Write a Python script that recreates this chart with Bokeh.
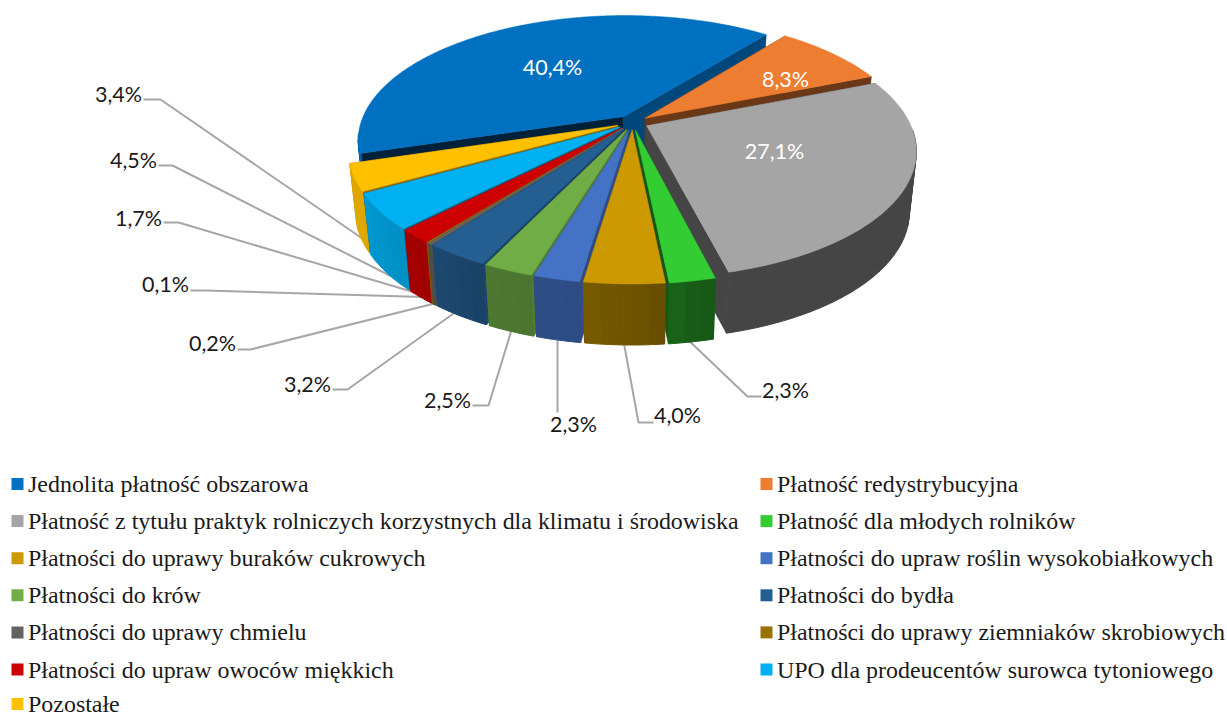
import numpy as np
from bokeh.plotting import figure
from bokeh.models import Range1d
from bokeh.core.properties import value
from bokeh.embed import file_html
from bokeh.resources import INLINE

# ---- data ----
categories = ["Jednolita płatność obszarowa", "Płatność redystrybucyjna",
    "Płatność z tytułu praktyk rolniczych korzystnych dla klimatu i środowiska",
    "Płatność dla młodych rolników", "Płatności do uprawy buraków cukrowych",
    "Płatności do upraw roślin wysokobiałkowych", "Płatności do krów", "Płatności do bydła",
    "Płatności do uprawy chmielu", "Płatności do uprawy ziemniaków skrobiowych",
    "Płatności do upraw owoców miękkich", "UPO dla prodeucentów surowca tytoniowego", "Pozostałe"]
shares = [40.4, 8.3, 27.1, 2.3, 4.0, 2.3, 2.5, 3.2, 0.2, 0.1, 1.7, 4.5, 3.4]
labels = ["40,4%", "8,3%", "27,1%", "2,3%", "4,0%", "2,3%", "2,5%", "3,2%", "0,2%", "0,1%", "1,7%", "4,5%", "3,4%"]
colors = ["#0070C0", "#ED7D31", "#A5A5A5", "#33CC33", "#CC9900", "#4472C4", "#70AD47",
          "#255E91", "#636363", "#997300", "#CC0000", "#00B0F0", "#FFC000"]

# ---- layout (picture pixels) ----
CX, CY, R, RY, P, EXPL, THICK, K = 632, 122, 263, 122, 0.188, 0.06, 61, 0.975
START = -107
LABEL_POS = [(552, 66), (785, 78), (774, 150), (785, 389), (677, 414), (573, 423), (447, 399),
             (307, 383), (212, 342), (165, 283), (138, 217), (133, 159), (118, 93)]
ELBOWS = [None, None, None, [(761, 396), (747, 396)], [(653, 422), (638, 422)], [(557, 412), (557, 412)],
          [(472, 405), (488, 405)], [(332, 389), (347, 389)], [(237, 349), (250, 349)],
          [(190, 290), (205, 290)], [(163, 222), (178, 222)], [(158, 165), (172, 165)], [(143, 99), (160, 99)]]
LEADER_END = [None, None, None, (684, 336), (622, 335), (557, 332), (513, 323), (460, 308), (446, 300),
              (440, 297), (428, 296), (405, 283), (372, 245)]
RADIAL_SHADE = [(0.30, 0.65), (0.45, 0.45), (0.42, 0.42), (0.45, 0.42), (0.55, 0.55), (0.68, 0.68),
                (0.72, 0.72), (0.75, 0.72), (0.8, 0.8), (0.8, 0.8), (0.82, 0.82), (0.6, 0.6), (0.55, 0.55)]
SHADE_T = [120, 166, 174, 189, 190, 197, 206, 211, 221, 233, 247]
SHADE_V = [0.42, 0.42, 0.50, 0.60, 0.68, 0.68, 0.70, 0.74, 0.80, 0.85, 0.88]
WALL_FROM, WALL_TO = 92, 262   # part of the rim that faces the viewer, degrees clockwise from the back

def shade(c, f):
    r, g, b = int(c[1:3], 16), int(c[3:5], 16), int(c[5:7], 16)
    return "#%02x%02x%02x" % (int(r * f), int(g * f), int(b * f))

def project(r, t, m):
    t, m = np.radians(t), np.radians(m)
    X = r * np.sin(t) + EXPL * np.sin(m)
    Y = r * np.cos(t) + EXPL * np.cos(m)
    s = 1 / (1 + P * Y)
    return CX + R * X * s, CY - RY * Y * s

def lower(x, y):
    return CX + (np.asarray(x) - CX) * K, np.asarray(y) + THICK

p = figure(width=1227, height=717, output_backend="svg", toolbar_location=None,
           x_range=Range1d(0, 1227), y_range=Range1d(717, 0), min_border=0, outline_line_color=None)
p.xaxis.visible = False
p.yaxis.visible = False
p.grid.visible = False

# leaders, beneath the pie
for el, end in zip(ELBOWS, LEADER_END):
    if el:
        xs = [el[0][0], el[1][0], end[0]]
        ys = [el[0][1], el[1][1], end[1]]
        p.line(xs, ys, line_color="#A6A6A6", line_width=2)

edges = START + np.cumsum([0] + shares) * 3.6
mids = (edges[:-1] + edges[1:]) / 2
order = np.argsort(-np.cos(np.radians(mids)))

for i in order:
    a, b, m, col = edges[i], edges[i + 1], mids[i], colors[i]
    ts = np.linspace(a, b, max(int((b - a) * 2), 6))
    ax, ay = project(0, 0, m)
    for t_edge, f in zip((a, b), RADIAL_SHADE[i]):
        ex, ey = project(1, t_edge, m)
        bx, by = lower([ax, ex], [ay, ey])
        c = shade(col, f)
        p.patch([ax, ex, bx[1], bx[0]], [ay, ey, by[1], by[0]], fill_color=c, line_color=c, line_width=0.5)
    # outer wall, in bands, only where the rim faces the viewer
    a360 = a % 360
    b360 = a360 + (b - a)
    w0, w1 = max(a360, WALL_FROM), min(b360, WALL_TO)
    if w1 > w0:
        nb = max(int((w1 - w0) / 2.5), 1)
        bands = np.linspace(w0, w1, nb + 1)
        for tb0, tb1 in zip(bands[:-1], bands[1:]):
            tt = np.linspace(tb0, tb1, 5)
            x, y = project(1, tt, m)
            bx, by = lower(x, y)
            c = shade(col, np.interp((tb0 + tb1) / 2, SHADE_T, SHADE_V))
            p.patch(list(x) + list(bx[::-1]), list(y) + list(by[::-1]), fill_color=c, line_color=c, line_width=1)
    x, y = project(1, ts, m)
    p.patch([ax] + list(x), [ay] + list(y), fill_color=col, line_color=col, line_width=0.5)

# data labels
for i, (lab, pos) in enumerate(zip(labels, LABEL_POS)):
    p.text([pos[0]], [pos[1]], text=[lab], text_font=value("Lato"), text_font_size="21.5px",
           text_color="#FFFFFF" if i < 3 else "#1a1a1a", text_align="center", text_baseline="middle")

# legend
LEG_X = [11, 760]
LEG_Y0, LEG_DY = 483.5, 37.1
for i, (name, col) in enumerate(zip(categories, colors)):
    lx = LEG_X[i % 2]
    ly = min(LEG_Y0 + LEG_DY * (i // 2), 703.5)
    p.rect([lx + 6], [ly], width=12, height=12, fill_color=col, line_color=None)
    p.text([lx + 16.5], [ly], text=[name], text_font=value("Liberation Serif"), text_font_size="23.95px",
           text_color="#1a1a1a", text_align="left", text_baseline="middle")

open("out.html", "w").write(file_html(p, INLINE))
